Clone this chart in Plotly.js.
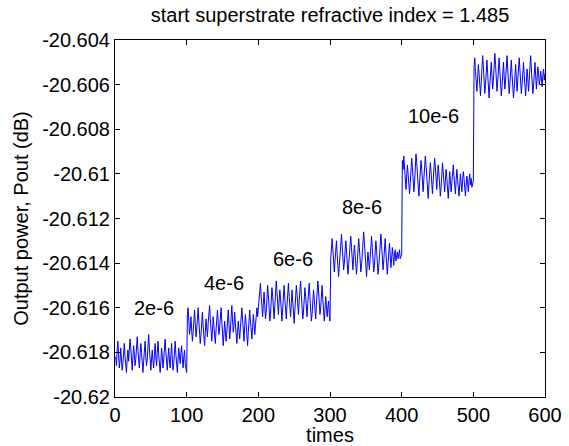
<!DOCTYPE html>
<html>
<head>
<meta charset="utf-8">
<script src="https://cdn.plot.ly/plotly-3.0.1.min.js"></script>
<style>html,body{margin:0;padding:0;background:#fff;}#chart{width:569px;height:446px;}</style>
</head>
<body>
<div id="chart"></div>
<script>
// Output power readings (dB), one reading per time step
const seg1 = [-20.6182,-20.6186,-20.6179,-20.6175,-20.6181,-20.6187,-20.6184,-20.6178,-20.6183,-20.6188,
-20.6185,-20.6180,-20.6176,-20.6182,-20.6186,-20.6189,-20.6183,-20.6179,-20.6184,-20.6180,
-20.6174,-20.6178,-20.6185,-20.6188,-20.6182,-20.6177,-20.6181,-20.6186,-20.6183,-20.6178,
-20.6173,-20.6179,-20.6184,-20.6187,-20.6181,-20.6176,-20.6180,-20.6185,-20.6189,-20.6184,
-20.6179,-20.6175,-20.6182,-20.6186,-20.6183,-20.6177,-20.6172,-20.6178,-20.6185,-20.6188,
-20.6183,-20.6179,-20.6184,-20.6187,-20.6181,-20.6176,-20.6182,-20.6186,-20.6180,-20.6175,
-20.6181,-20.6185,-20.6189,-20.6184,-20.6178,-20.6182,-20.6187,-20.6183,-20.6177,-20.6174,
-20.6180,-20.6186,-20.6188,-20.6182,-20.6178,-20.6184,-20.6187,-20.6181,-20.6176,-20.6183,
-20.6188,-20.6185,-20.6179,-20.6175,-20.6181,-20.6186,-20.6189,-20.6183,-20.6178,-20.6182,
-20.6185,-20.6180,-20.6177,-20.6183,-20.6187,-20.6182,-20.6179,-20.6185,-20.6188,-20.6189];
const seg2 = [-20.6163,-20.6160,-20.6166,-20.6172,-20.6169,-20.6164,-20.6170,-20.6175,-20.6171,-20.6165,
-20.6161,-20.6167,-20.6173,-20.6170,-20.6164,-20.6160,-20.6166,-20.6171,-20.6176,-20.6172,
-20.6166,-20.6162,-20.6168,-20.6174,-20.6177,-20.6171,-20.6165,-20.6169,-20.6173,-20.6167,
-20.6162,-20.6159,-20.6165,-20.6171,-20.6175,-20.6170,-20.6164,-20.6168,-20.6174,-20.6176,
-20.6170,-20.6165,-20.6161,-20.6167,-20.6172,-20.6169,-20.6163,-20.6160,-20.6166,-20.6173,
-20.6177,-20.6172,-20.6166,-20.6170,-20.6175,-20.6171,-20.6164,-20.6161,-20.6167,-20.6174,
-20.6170,-20.6163,-20.6159,-20.6165,-20.6171,-20.6168,-20.6162,-20.6167,-20.6173,-20.6176,
-20.6171,-20.6166,-20.6170,-20.6174,-20.6169,-20.6164,-20.6160,-20.6165,-20.6172,-20.6175,
-20.6168,-20.6163,-20.6167,-20.6173,-20.6177,-20.6171,-20.6165,-20.6161,-20.6166,-20.6170,
-20.6174,-20.6169,-20.6163,-20.6167,-20.6172,-20.6168,-20.6162,-20.6160,-20.6164,-20.6161];
const seg3 = [-20.6158,-20.6152,-20.6149,-20.6155,-20.6161,-20.6164,-20.6158,-20.6153,-20.6159,-20.6165,
-20.6162,-20.6156,-20.6150,-20.6154,-20.6160,-20.6166,-20.6163,-20.6157,-20.6151,-20.6155,
-20.6161,-20.6165,-20.6159,-20.6154,-20.6148,-20.6153,-20.6159,-20.6163,-20.6157,-20.6152,
-20.6156,-20.6162,-20.6166,-20.6160,-20.6155,-20.6150,-20.6156,-20.6161,-20.6165,-20.6159,
-20.6153,-20.6149,-20.6155,-20.6160,-20.6164,-20.6158,-20.6152,-20.6157,-20.6162,-20.6167,
-20.6161,-20.6155,-20.6150,-20.6154,-20.6159,-20.6163,-20.6157,-20.6151,-20.6148,-20.6154,
-20.6160,-20.6165,-20.6162,-20.6156,-20.6151,-20.6155,-20.6161,-20.6164,-20.6158,-20.6153,
-20.6149,-20.6155,-20.6160,-20.6166,-20.6163,-20.6157,-20.6152,-20.6156,-20.6162,-20.6165,
-20.6159,-20.6153,-20.6148,-20.6152,-20.6158,-20.6163,-20.6160,-20.6154,-20.6150,-20.6156,
-20.6161,-20.6166,-20.6161,-20.6155,-20.6159,-20.6164,-20.6160,-20.6157,-20.6163,-20.6166];
const seg4 = [-20.6138,-20.6133,-20.6129,-20.6134,-20.6140,-20.6144,-20.6139,-20.6134,-20.6130,-20.6136,
-20.6142,-20.6146,-20.6141,-20.6135,-20.6131,-20.6127,-20.6132,-20.6138,-20.6143,-20.6140,
-20.6135,-20.6130,-20.6134,-20.6139,-20.6145,-20.6141,-20.6136,-20.6131,-20.6128,-20.6133,
-20.6139,-20.6143,-20.6137,-20.6132,-20.6136,-20.6142,-20.6145,-20.6140,-20.6134,-20.6129,
-20.6133,-20.6138,-20.6144,-20.6141,-20.6135,-20.6130,-20.6126,-20.6131,-20.6137,-20.6142,
-20.6146,-20.6140,-20.6135,-20.6139,-20.6143,-20.6138,-20.6132,-20.6128,-20.6133,-20.6139,
-20.6144,-20.6141,-20.6136,-20.6130,-20.6134,-20.6140,-20.6145,-20.6142,-20.6137,-20.6131,
-20.6127,-20.6132,-20.6138,-20.6143,-20.6139,-20.6134,-20.6129,-20.6135,-20.6141,-20.6145,
-20.6140,-20.6135,-20.6131,-20.6136,-20.6142,-20.6138,-20.6133,-20.6137,-20.6141,-20.6136,
-20.6134,-20.6139,-20.6137,-20.6135,-20.6138,-20.6136,-20.6134,-20.6138,-20.6137,-20.6136];
const seg5 = [-20.6094,-20.6098,-20.6092,-20.6097,-20.6103,-20.6107,-20.6101,-20.6096,-20.6100,-20.6106,
-20.6109,-20.6104,-20.6099,-20.6093,-20.6097,-20.6102,-20.6108,-20.6104,-20.6098,-20.6091,
-20.6095,-20.6101,-20.6106,-20.6110,-20.6104,-20.6099,-20.6094,-20.6098,-20.6103,-20.6108,
-20.6102,-20.6097,-20.6092,-20.6096,-20.6101,-20.6107,-20.6111,-20.6105,-20.6100,-20.6095,
-20.6099,-20.6104,-20.6109,-20.6103,-20.6098,-20.6093,-20.6097,-20.6103,-20.6107,-20.6101,
-20.6096,-20.6100,-20.6105,-20.6110,-20.6106,-20.6100,-20.6095,-20.6099,-20.6104,-20.6108,
-20.6103,-20.6098,-20.6102,-20.6107,-20.6111,-20.6105,-20.6099,-20.6103,-20.6108,-20.6104,
-20.6100,-20.6096,-20.6101,-20.6106,-20.6109,-20.6103,-20.6098,-20.6102,-20.6107,-20.6110,
-20.6105,-20.6100,-20.6104,-20.6108,-20.6103,-20.6099,-20.6102,-20.6106,-20.6110,-20.6105,
-20.6101,-20.6104,-20.6108,-20.6103,-20.6100,-20.6105,-20.6102,-20.6106,-20.6104,-20.6103];
const seg6 = [-20.6052,-20.6048,-20.6054,-20.6060,-20.6063,-20.6057,-20.6051,-20.6055,-20.6061,-20.6065,
-20.6059,-20.6053,-20.6047,-20.6052,-20.6058,-20.6064,-20.6060,-20.6054,-20.6049,-20.6055,
-20.6061,-20.6066,-20.6060,-20.6054,-20.6050,-20.6056,-20.6062,-20.6058,-20.6052,-20.6046,
-20.6051,-20.6057,-20.6063,-20.6059,-20.6053,-20.6048,-20.6054,-20.6060,-20.6065,-20.6061,
-20.6055,-20.6050,-20.6056,-20.6062,-20.6058,-20.6052,-20.6047,-20.6053,-20.6059,-20.6064,
-20.6060,-20.6054,-20.6049,-20.6055,-20.6061,-20.6066,-20.6062,-20.6056,-20.6051,-20.6057,
-20.6063,-20.6058,-20.6052,-20.6048,-20.6053,-20.6059,-20.6064,-20.6060,-20.6054,-20.6050,
-20.6056,-20.6062,-20.6065,-20.6059,-20.6053,-20.6057,-20.6063,-20.6058,-20.6052,-20.6047,
-20.6053,-20.6059,-20.6064,-20.6061,-20.6055,-20.6050,-20.6056,-20.6062,-20.6057,-20.6052,
-20.6055,-20.6060,-20.6058,-20.6054,-20.6057,-20.6061,-20.6056,-20.6053,-20.6058,-20.6055];

const stepLabels = ["2e-6", "4e-6", "6e-6", "8e-6", "10e-6"];
const labelX = [54, 152, 248, 345, 445];
const labelY = [-20.6160, -20.6149, -20.6138, -20.6115, -20.6074];

const yTickVals = [-20.62, -20.618, -20.616, -20.614, -20.612, -20.61, -20.608, -20.606, -20.604];
const yTickText = ["-20.62", "-20.618", "-20.616", "-20.614", "-20.612", "-20.61", "-20.608", "-20.606", "-20.604"];
const xTickVals = [0, 100, 200, 300, 400, 500, 600];

const pout = seg1.concat(seg2, seg3, seg4, seg5, seg6);

const font = {family: "Liberation Sans, Arial, sans-serif", size: 20, color: "#000"};

const trace = {
  y: pout, x0: 1, dx: 1,
  type: "scatter", mode: "lines",
  line: {color: "#0000ff", width: 1},
  hoverinfo: "skip"
};

const annotations = stepLabels.map((t, i) => ({
  text: t, x: labelX[i], y: labelY[i], xref: "x", yref: "y",
  showarrow: false, font: font
}));

const axisCommon = {
  showgrid: false, zeroline: false, showline: true, linecolor: "#000", linewidth: 1,
  mirror: "ticks", ticks: "inside", ticklen: 5, tickcolor: "#000", tickfont: font
};

const layout = {
  width: 569, height: 446,
  margin: {l: 115, r: 24, t: 40, b: 49},
  paper_bgcolor: "#fff", plot_bgcolor: "#fff",
  font: font, showlegend: false,
  title: {text: "start superstrate refractive index = 1.485", font: font,
          x: 0.5, xref: "paper", y: 1 - 15 / 446, yref: "container", yanchor: "middle"},
  xaxis: Object.assign({}, axisCommon, {
    range: [0, 600], tickvals: xTickVals, ticktext: xTickVals.map(String),
    title: {text: "times", font: font, standoff: 0}
  }),
  yaxis: Object.assign({}, axisCommon, {
    range: [-20.62, -20.604], tickvals: yTickVals, ticktext: yTickText,
    title: {text: "Output power, Pout (dB)", font: font, standoff: 8}
  }),
  annotations: annotations
};

Plotly.newPlot("chart", [trace], layout, {staticPlot: true, displayModeBar: false});
</script>
</body>
</html>
